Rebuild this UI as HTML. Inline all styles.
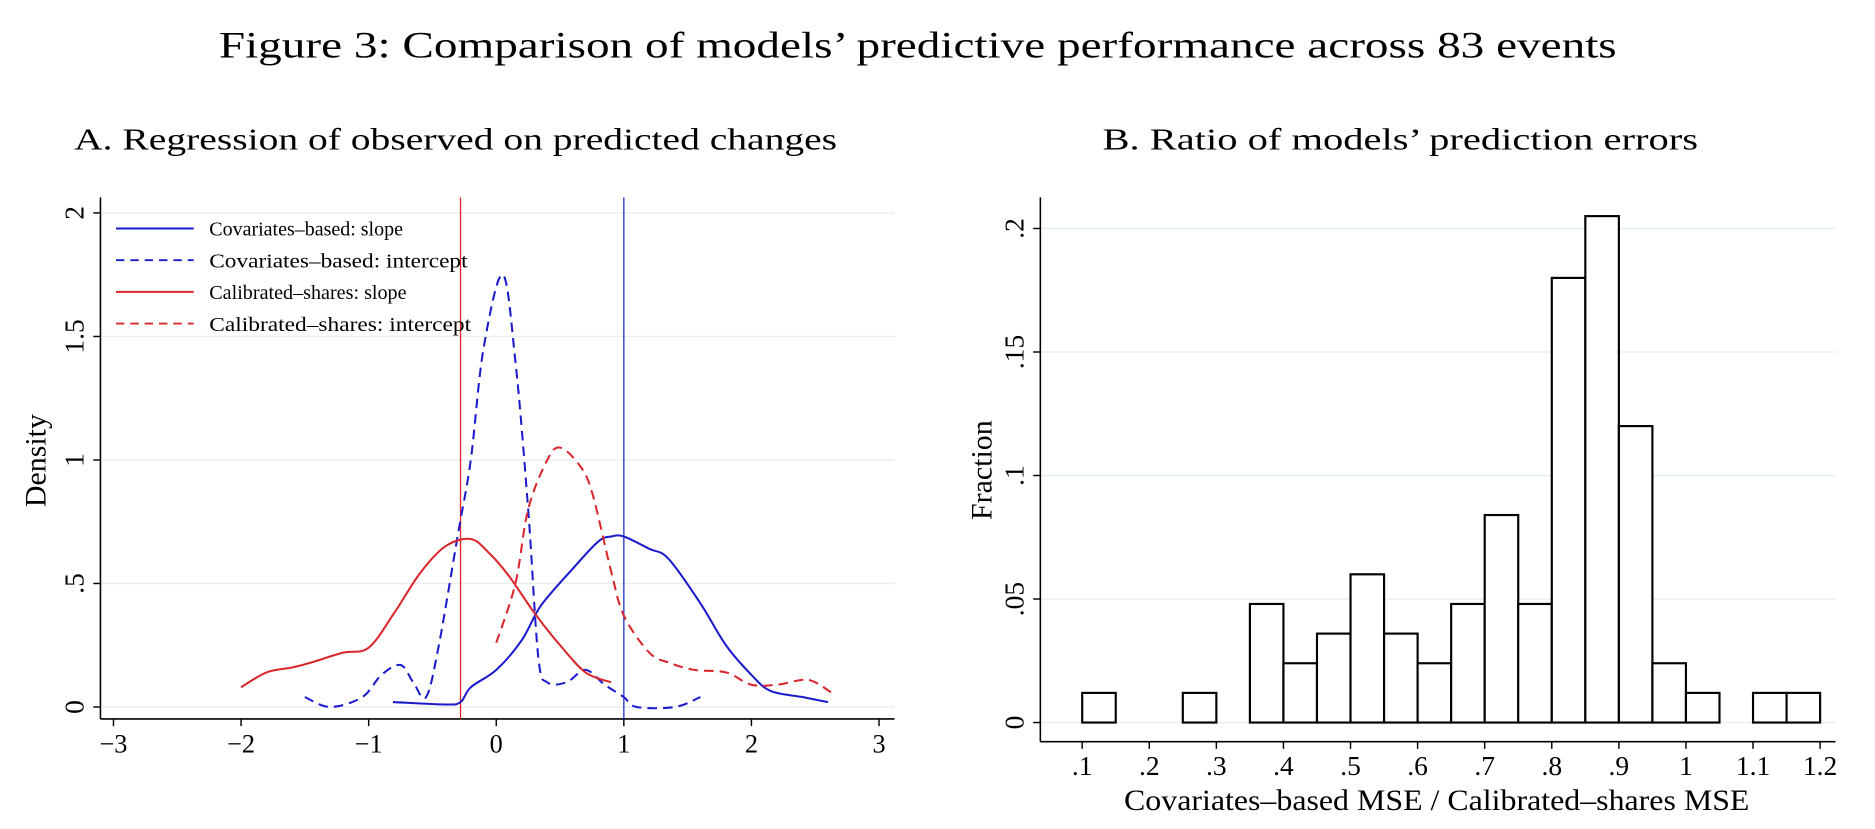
<!DOCTYPE html>
<html><head><meta charset="utf-8"><style>
html,body{margin:0;padding:0;background:#fff;}
svg{display:block;font-family:"Liberation Serif",serif;}
</style></head><body>
<svg id="fig" width="1875" height="829" viewBox="0 0 1568 693" preserveAspectRatio="none">
<rect width="1568" height="693" fill="#fff"/>
<text x="183" y="48" font-size="31" textLength="1169" lengthAdjust="spacingAndGlyphs">Figure 3: Comparison of models’ predictive performance across 83 events</text>
<text x="62" y="125" font-size="26" textLength="638" lengthAdjust="spacingAndGlyphs">A. Regression of observed on predicted changes</text>
<text x="922" y="125" font-size="26" textLength="498" lengthAdjust="spacingAndGlyphs">B. Ratio of models’ prediction errors</text>
<g id="pa"></g>
<g id="pb"></g>
</svg>
<script>
const NS="http://www.w3.org/2000/svg";
function mk(p,t,a){const e=document.createElementNS(NS,t);for(const k in a)e.setAttribute(k,a[k]);p.appendChild(e);return e;}
// Panel A data
const aXTicks=[-3,-2,-1,0,1,2,3];
const aYTicks=[0,0.5,1,1.5,2];
const aYLabels=["0",".5","1","1.5","2"];
const covSlopeX=[-0.81,-0.4,-0.28,-0.2,0,0.2,0.35,0.6,0.8,0.9,1.0,1.2,1.35,1.6,1.8,2.0,2.15,2.4,2.6];
const covSlopeY=[0.02,0.01,0.02,0.08,0.15,0.27,0.41,0.56,0.67,0.69,0.69,0.64,0.6,0.42,0.25,0.13,0.065,0.04,0.02];
const covIntX=[-1.5,-1.3,-1.05,-0.9,-0.75,-0.65,-0.55,-0.45,-0.3,-0.2,-0.1,0.05,0.15,0.25,0.33,0.4,0.55,0.7,0.85,1.0,1.1,1.4,1.6];
const covIntY=[0.04,0.0,0.04,0.13,0.17,0.1,0.04,0.25,0.7,1.0,1.45,1.75,1.4,0.8,0.2,0.1,0.1,0.15,0.09,0.04,0.0,0.0,0.04];
const calSlopeX=[-2,-1.8,-1.6,-1.45,-1.2,-1.0,-0.8,-0.6,-0.4,-0.2,-0.05,0.1,0.3,0.5,0.7,0.9];
const calSlopeY=[0.08,0.14,0.16,0.18,0.22,0.24,0.38,0.54,0.65,0.68,0.62,0.53,0.38,0.25,0.14,0.1];
const calIntX=[0,0.15,0.25,0.4,0.5,0.65,0.75,0.9,1.0,1.2,1.35,1.55,1.8,2.0,2.2,2.4,2.5,2.65];
const calIntY=[0.26,0.5,0.8,1.0,1.05,0.98,0.87,0.55,0.37,0.22,0.18,0.15,0.14,0.09,0.09,0.11,0.1,0.05];
const vLines=[-0.28,1];
const ax=v=>415+v*106.7, ay=v=>591-v*206.5;
const pa=document.getElementById('pa');
aYTicks.forEach((t,i)=>{
 const g=mk(pa,'line',{x1:84,x2:748,y1:ay(t),y2:ay(t),stroke:'#e8eef0','stroke-width':1.2});
 
 
 mk(pa,'line',{x1:78,x2:84,y1:ay(t),y2:ay(t),stroke:'#000','stroke-width':1.2});
 const tx=mk(pa,'text',{x:0,y:0,'font-size':23,'text-anchor':'middle',transform:`translate(70,${ay(t)}) rotate(-90)`});
 tx.textContent=aYLabels[i];
 
 
});
mk(pa,'line',{x1:84,x2:84,y1:165,y2:601,stroke:'#000','stroke-width':1.3});
mk(pa,'line',{x1:84,x2:748,y1:601,y2:601,stroke:'#000','stroke-width':1.3});
aXTicks.forEach(t=>{
 mk(pa,'line',{x1:ax(t),x2:ax(t),y1:601,y2:607,stroke:'#000','stroke-width':1.2});
 const tx=mk(pa,'text',{x:ax(t),y:629,'font-size':22,'text-anchor':'middle'});
 tx.textContent=t<0?'\u2212'+(-t):String(t);
 
 
});
const yt=mk(pa,'text',{x:0,y:0,'font-size':25,'text-anchor':'middle',transform:'translate(38,385) rotate(-90)'});
yt.textContent='Density';


const vcol=['#d9262b','#2233cc'];
vLines.forEach((v,i)=>{
 const l=mk(pa,'line',{x1:ax(v),x2:ax(v),y1:165,y2:601,stroke:vcol[i],'stroke-width':1.1});
 
 
});
function curve(xs,ys,col,dash,name){
 const P=xs.map((x,i)=>[ax(x),ay(ys[i])]);
 let d='M'+P[0][0].toFixed(1)+','+P[0][1].toFixed(1);
 for(let i=0;i<P.length-1;i++){
  const p0=P[Math.max(0,i-1)],p1=P[i],p2=P[i+1],p3=P[Math.min(P.length-1,i+2)];
  const c1=[p1[0]+(p2[0]-p0[0])/6,p1[1]+(p2[1]-p0[1])/6],c2=[p2[0]-(p3[0]-p1[0])/6,p2[1]-(p3[1]-p1[1])/6];
  d+=` C${c1[0].toFixed(1)},${c1[1].toFixed(1)} ${c2[0].toFixed(1)},${c2[1].toFixed(1)} ${p2[0].toFixed(1)},${p2[1].toFixed(1)}`;
 }
 const p=mk(pa,'path',{d:d,fill:'none',stroke:col,'stroke-width':1.7,'stroke-dasharray':dash?'8,5':'none','stroke-linejoin':'round'});
 
 
}
curve(covSlopeX,covSlopeY,'#1a1acc',false,'covariates-slope-curve');
curve(covIntX,covIntY,'#1a1acc',true,'covariates-intercept-curve');
curve(calSlopeX,calSlopeY,'#d9262b',false,'calibrated-slope-curve');
curve(calIntX,calIntY,'#d9262b',true,'calibrated-intercept-curve');
const legNames=['Covariates\u2013based: slope','Covariates\u2013based: intercept','Calibrated\u2013shares: slope','Calibrated\u2013shares: intercept'];
const legLens=[162,216,165,219];
const legCols=['#1a1acc','#1a1acc','#d9262b','#d9262b'];
const legDash=[false,true,false,true];
legNames.forEach((n,i)=>{
 const y=191+i*26.5;
 const g=mk(pa,'g',{});
 
 
 mk(g,'line',{x1:97,x2:162,y1:y,y2:y,stroke:legCols[i],'stroke-width':1.6,'stroke-dasharray':legDash[i]?'7,5':'none'});
 const t=mk(g,'text',{x:175,y:y+6,'font-size':17,textLength:legLens[i],lengthAdjust:'spacingAndGlyphs'});t.textContent=n;
});
// Panel B data
const binStarts=[0.1,0.25,0.35,0.4,0.45,0.5,0.55,0.6,0.65,0.7,0.75,0.8,0.85,0.9,0.95,1.0,1.1,1.15];
const binFractions=[0.012,0.012,0.048,0.024,0.036,0.06,0.036,0.024,0.048,0.084,0.048,0.18,0.205,0.12,0.024,0.012,0.012,0.012];
const binWidth=0.05;
const bXTicks=[0.1,0.2,0.3,0.4,0.5,0.6,0.7,0.8,0.9,1,1.1,1.2];
const bXLabels=['.1','.2','.3','.4','.5','.6','.7','.8','.9','1','1.1','1.2'];
const bYTicks=[0,0.05,0.1,0.15,0.2];
const bYLabels=['0','.05','.1','.15','.2'];
const bx=v=>905+(v-0.1)*561, by=v=>604-v*2065;
const pb=document.getElementById('pb');
bYTicks.forEach((t,i)=>{
 const g=mk(pb,'line',{x1:870,x2:1535,y1:by(t),y2:by(t),stroke:'#e8eef0','stroke-width':1.2});
 
 
 mk(pb,'line',{x1:864,x2:870,y1:by(t),y2:by(t),stroke:'#000','stroke-width':1.2});
 const tx=mk(pb,'text',{x:0,y:0,'font-size':23,'text-anchor':'middle',transform:`translate(856,${by(t)}) rotate(-90)`});
 tx.textContent=bYLabels[i];
 
 
});
mk(pb,'line',{x1:870,x2:870,y1:165,y2:620,stroke:'#000','stroke-width':1.3});
mk(pb,'line',{x1:870,x2:1535,y1:620,y2:620,stroke:'#000','stroke-width':1.3});
bXTicks.forEach((t,i)=>{
 mk(pb,'line',{x1:bx(t),x2:bx(t),y1:620,y2:626,stroke:'#000','stroke-width':1.2});
 const tx=mk(pb,'text',{x:bx(t),y:648,'font-size':23,'text-anchor':'middle'});
 tx.textContent=bXLabels[i];
 
 
});
binStarts.forEach((s,i)=>{
 const r=mk(pb,'rect',{x:bx(s),y:by(binFractions[i]),width:bx(s+binWidth)-bx(s),height:by(0)-by(binFractions[i]),fill:'#fff',stroke:'#000','stroke-width':1.8});
 
 
});
const bxt=mk(pb,'text',{x:940,y:677,'font-size':25,textLength:523,lengthAdjust:'spacingAndGlyphs'});
bxt.textContent='Covariates\u2013based MSE / Calibrated\u2013shares MSE';


const byt=mk(pb,'text',{x:0,y:0,'font-size':25,'text-anchor':'middle',transform:'translate(829,393) rotate(-90)'});
byt.textContent='Fraction';


</script>
</body></html>
